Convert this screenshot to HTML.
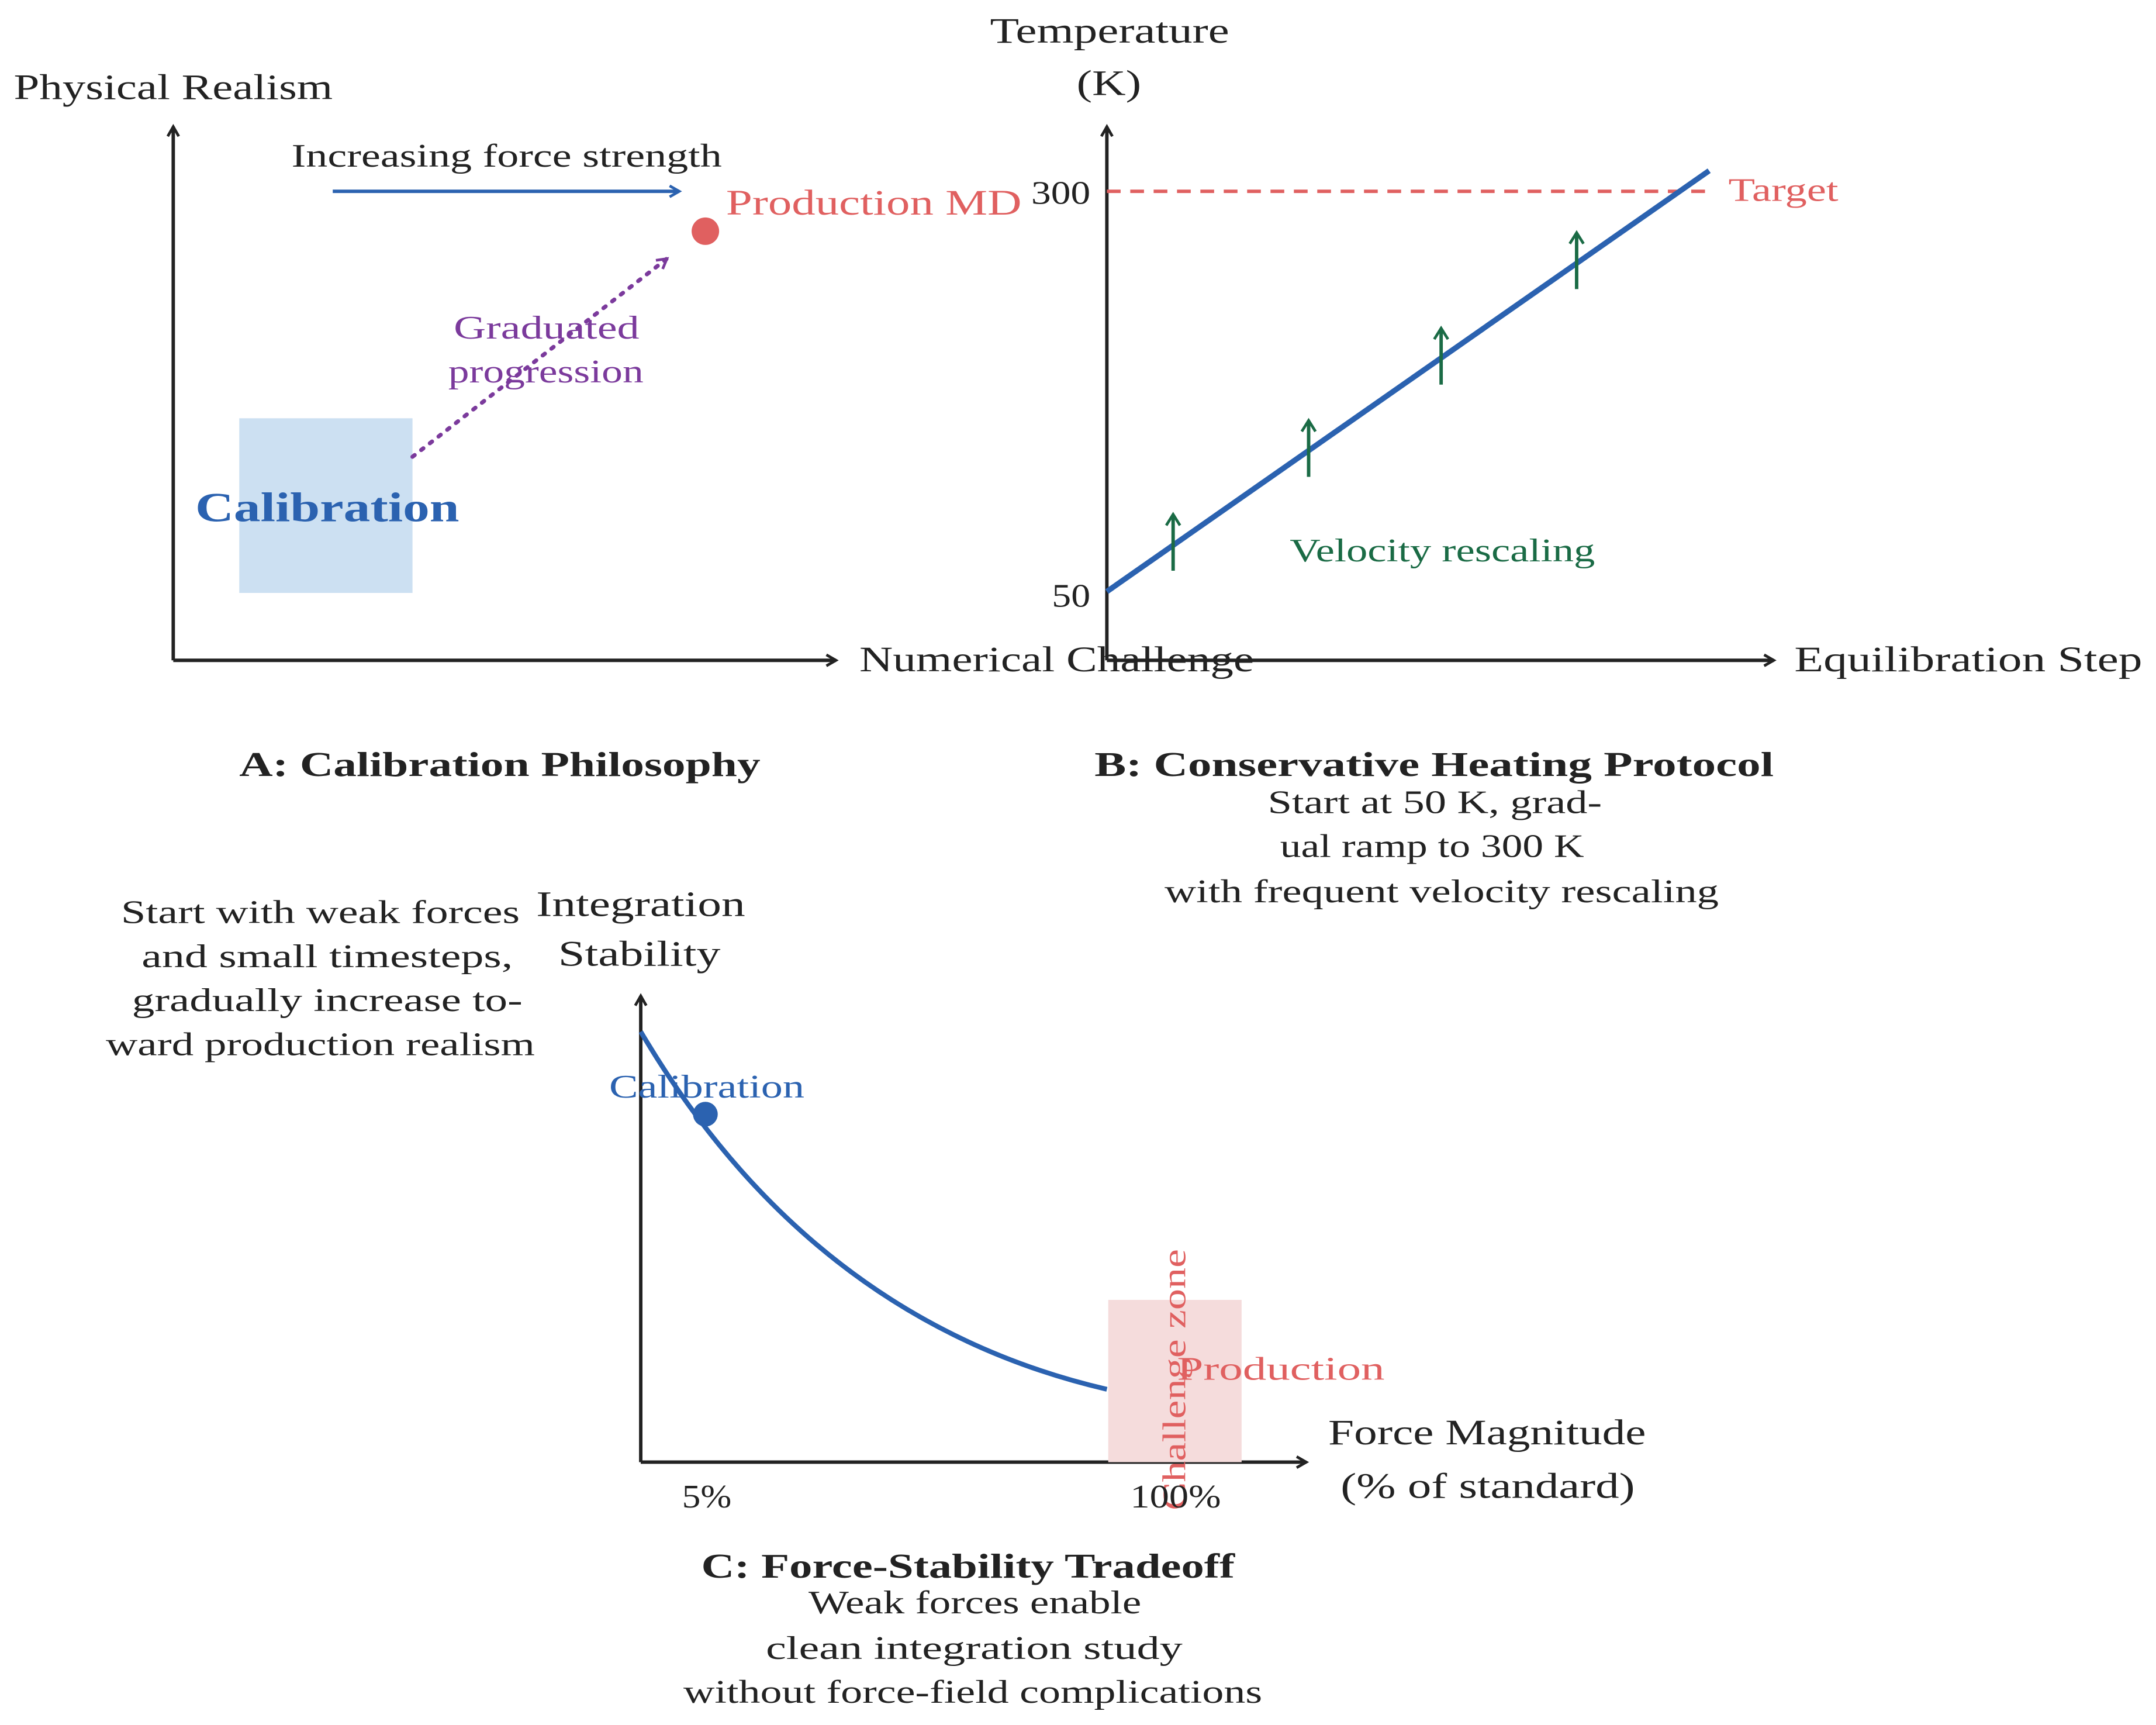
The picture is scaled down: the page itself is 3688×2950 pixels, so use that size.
<!DOCTYPE html>
<html><head><meta charset="utf-8"><style>
html,body{margin:0;padding:0;background:#fff}
svg{display:block}
text{font-family:"Liberation Serif",serif;fill:#222}
</style></head><body>
<svg width="3688" height="2950" viewBox="0 0 1568 1254" xmlns="http://www.w3.org/2000/svg">
<defs>
<marker id="ak" markerWidth="10" markerHeight="10" refX="8" refY="5" orient="auto" markerUnits="userSpaceOnUse"><path d="M1,1 L8,5 L1,9" fill="none" stroke="#222" stroke-width="2"/></marker>
<marker id="ab" markerWidth="10" markerHeight="10" refX="8" refY="5" orient="auto" markerUnits="userSpaceOnUse"><path d="M1,1 L8,5 L1,9" fill="none" stroke="#2b62b0" stroke-width="2"/></marker>
<marker id="ap" markerWidth="10" markerHeight="10" refX="8" refY="5" orient="auto" markerUnits="userSpaceOnUse"><path d="M1,1 L8,5 L1,9" fill="none" stroke="#7b3a9c" stroke-width="2"/></marker>
<marker id="ag" markerWidth="12" markerHeight="12" refX="9" refY="6" orient="auto" markerUnits="userSpaceOnUse"><path d="M1,1 L9,6 L1,11" fill="none" stroke="#1a6b45" stroke-width="2"/></marker>
</defs>

<!-- Panel A -->
<g>
<line x1="126" y1="480" x2="126" y2="92" stroke="#222" stroke-width="2.5" marker-end="url(#ak)"/>
<line x1="126" y1="480" x2="608" y2="480" stroke="#222" stroke-width="2.5" marker-end="url(#ak)"/>
<text x="10" y="72" font-size="26" textLength="232" lengthAdjust="spacingAndGlyphs">Physical Realism</text>
<text x="625" y="488" font-size="26" textLength="287" lengthAdjust="spacingAndGlyphs">Numerical Challenge</text>
<line x1="242" y1="139" x2="494" y2="139" stroke="#2b62b0" stroke-width="2.5" marker-end="url(#ab)"/>
<text x="212" y="121" font-size="24" textLength="313" lengthAdjust="spacingAndGlyphs">Increasing force strength</text>
<circle cx="513" cy="168" r="10" fill="#e06060"/>
<text x="528" y="156" font-size="26" textLength="215" lengthAdjust="spacingAndGlyphs" style="fill:#e06060">Production MD</text>
<rect x="174" y="304" width="126" height="127" fill="#cce0f2"/>
<text x="142" y="379" font-size="30" font-weight="bold" textLength="192" lengthAdjust="spacingAndGlyphs" style="fill:#2b62b0">Calibration</text>
<line x1="300" y1="332" x2="485" y2="188" stroke="#7b3a9c" stroke-width="3" stroke-dasharray="2,6" stroke-linecap="round" marker-end="url(#ap)"/>
<text x="330" y="246" font-size="24" textLength="135" lengthAdjust="spacingAndGlyphs" style="fill:#7b3a9c">Graduated</text>
<text x="326" y="278" font-size="24" textLength="142" lengthAdjust="spacingAndGlyphs" style="fill:#7b3a9c">progression</text>
<text x="174" y="564" font-size="25" font-weight="bold" textLength="379" lengthAdjust="spacingAndGlyphs">A: Calibration Philosophy</text>
<g font-size="24">
<text x="88" y="671" textLength="290" lengthAdjust="spacingAndGlyphs">Start with weak forces</text>
<text x="103" y="703" textLength="270" lengthAdjust="spacingAndGlyphs">and small timesteps,</text>
<text x="96" y="735" textLength="284" lengthAdjust="spacingAndGlyphs">gradually increase to-</text>
<text x="77" y="767" textLength="312" lengthAdjust="spacingAndGlyphs">ward production realism</text>
</g>
</g>

<!-- Panel B -->
<g id="panelB">
<line x1="805" y1="480" x2="805" y2="92" stroke="#222" stroke-width="2.5" marker-end="url(#ak)"/>
<line x1="805" y1="480" x2="1290" y2="480" stroke="#222" stroke-width="2.5" marker-end="url(#ak)"/>
<text x="720" y="31" font-size="26" textLength="174" lengthAdjust="spacingAndGlyphs">Temperature</text>
<text x="783" y="69" font-size="26" textLength="47" lengthAdjust="spacingAndGlyphs">(K)</text>
<text x="1305" y="488" font-size="26" textLength="253" lengthAdjust="spacingAndGlyphs">Equilibration Step</text>
<text x="750" y="148" font-size="24" textLength="43" lengthAdjust="spacingAndGlyphs">300</text>
<text x="765" y="441" font-size="24" textLength="28" lengthAdjust="spacingAndGlyphs">50</text>
<line x1="805" y1="139" x2="1245" y2="139" stroke="#e06060" stroke-width="2.5" stroke-dasharray="10,7"/>
<text x="1257" y="146" font-size="24" textLength="80" lengthAdjust="spacingAndGlyphs" style="fill:#e06060">Target</text>
<text x="938" y="408" font-size="24" textLength="222" lengthAdjust="spacingAndGlyphs" style="fill:#1a6b45">Velocity rescaling</text>
<text x="796" y="564" font-size="25" font-weight="bold" textLength="494" lengthAdjust="spacingAndGlyphs">B: Conservative Heating Protocol</text>
<g font-size="24">
<text x="922" y="591" textLength="243" lengthAdjust="spacingAndGlyphs">Start at 50 K, grad-</text>
<text x="931" y="623" textLength="221" lengthAdjust="spacingAndGlyphs">ual ramp to 300 K</text>
<text x="847" y="656" textLength="403" lengthAdjust="spacingAndGlyphs">with frequent velocity rescaling</text>
</g>
</g>

<!-- Panel C -->
<g>
<line x1="466" y1="1063" x2="466" y2="724" stroke="#222" stroke-width="2.5" marker-end="url(#ak)"/>
<line x1="466" y1="1063" x2="950" y2="1063" stroke="#222" stroke-width="2.5" marker-end="url(#ak)"/>
<text x="390" y="666" font-size="26" textLength="152" lengthAdjust="spacingAndGlyphs">Integration</text>
<text x="406" y="702" font-size="26" textLength="118" lengthAdjust="spacingAndGlyphs">Stability</text>
<text x="966" y="1050" font-size="26" textLength="231" lengthAdjust="spacingAndGlyphs">Force Magnitude</text>
<text x="975" y="1089" font-size="26" textLength="214" lengthAdjust="spacingAndGlyphs">(% of standard)</text>
<rect x="806" y="945" width="97" height="118" fill="#f5dcdc"/>
<path d="M466,750 Q590,960 805,1010" fill="none" stroke="#2b62b0" stroke-width="3.5"/>
<circle cx="513" cy="810" r="9" fill="#2b62b0"/>
<text x="443" y="798" font-size="24" textLength="142" lengthAdjust="spacingAndGlyphs" style="fill:#2b62b0">Calibration</text>
<text x="856" y="1003" font-size="24" textLength="151" lengthAdjust="spacingAndGlyphs" style="fill:#e06060">Production</text>
<text transform="translate(862,1003) rotate(-90)" x="-95" y="0" font-size="24" textLength="190" lengthAdjust="spacingAndGlyphs" style="fill:#e06060">Challenge zone</text>
<text x="496" y="1096" font-size="24" textLength="36" lengthAdjust="spacingAndGlyphs">5%</text>
<text x="822" y="1096" font-size="24" textLength="66" lengthAdjust="spacingAndGlyphs">100%</text>
<text x="510" y="1147" font-size="25" font-weight="bold" textLength="388" lengthAdjust="spacingAndGlyphs">C: Force-Stability Tradeoff</text>
<g font-size="24">
<text x="588" y="1173" textLength="242" lengthAdjust="spacingAndGlyphs">Weak forces enable</text>
<text x="557" y="1206" textLength="303" lengthAdjust="spacingAndGlyphs">clean integration study</text>
<text x="497" y="1238" textLength="421" lengthAdjust="spacingAndGlyphs">without force-field complications</text>
</g>
</g>
</svg>
<script>
const rampSteps=[0,1];
const rampTemps=[50,310];
const arrowSteps=[0.11,0.335,0.555,0.78];
const arrowTemps=[79,137,194,253];
const NS="http://www.w3.org/2000/svg";
const xs=s=>805+s*438, ys=t=>430-(t-50)*(306/260);
const g=document.getElementById('panelB');
const ln=document.createElementNS(NS,'line');
ln.setAttribute('x1',xs(rampSteps[0]));ln.setAttribute('y1',ys(rampTemps[0]));
ln.setAttribute('x2',xs(rampSteps[1]));ln.setAttribute('y2',ys(rampTemps[1]));
ln.setAttribute('stroke','#2b62b0');ln.setAttribute('stroke-width','4');


g.appendChild(ln);
arrowSteps.forEach((s,i)=>{
 const a=document.createElementNS(NS,'line');
 const x=xs(s),y=ys(arrowTemps[i]);
 a.setAttribute('x1',x);a.setAttribute('y1',y+19);a.setAttribute('x2',x);a.setAttribute('y2',y-22);
 a.setAttribute('stroke','#1a6b45');a.setAttribute('stroke-width','2.5');a.setAttribute('marker-end','url(#ag)');
 
 
 g.appendChild(a);
});
</script>
</body></html>
